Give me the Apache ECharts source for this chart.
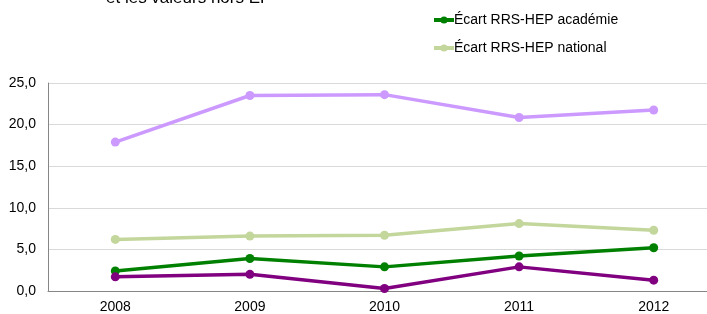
<!DOCTYPE html>
<html>
<head>
<meta charset="utf-8">
<script src="https://cdn.jsdelivr.net/npm/echarts@6/dist/echarts.min.js"></script>
<style>html,body{margin:0;padding:0;background:#fff}#c{width:707px;height:314px}</style>
</head>
<body>
<div id="c"></div>
<script>
const categories = ['2008', '2009', '2010', '2011', '2012'];
const ecartRrsHepAcademie = [2.4, 3.9, 2.9, 4.2, 5.2];
const ecartRrsHepNational = [6.2, 6.6, 6.7, 8.1, 7.3];
const serieViolette = [17.9, 23.5, 23.6, 20.85, 21.75];
const serieVioletteFoncee = [1.7, 2.0, 0.3, 2.9, 1.3];
const yTicks = [0, 5, 10, 15, 20, 25];

const chart = echarts.init(document.getElementById('c'), null, {renderer: 'canvas'});
const font = 'Liberation Sans, Arial, sans-serif';
function mk(name, data, color) {
  return {name, type: 'line', data, color, symbol: 'circle', symbolSize: 9,
    lineStyle: {width: 3.5, color}, itemStyle: {color}, animation: false};
}
chart.setOption({
  animation: false,
  title: {text: 'et les valeurs hors EP', left: 101, top: -15,
    textStyle: {fontFamily: font, fontSize: 17, fontWeight: 'normal', color: '#000'}},
  legend: {orient: 'vertical', left: 427, top: 8, itemWidth: 20, itemHeight: 9, itemGap: 14,
    lineStyle: {width: 4},
    data: ['Écart RRS-HEP académie', 'Écart RRS-HEP national'],
    textStyle: {fontFamily: font, fontSize: 14, color: '#000', padding: [0,0,0,-5]}},
  grid: {left: 48, top: 83, height: 208, width: 673, containLabel: false, outerBoundsMode: 'none'},
  xAxis: {type: 'category', data: categories, boundaryGap: true,
    axisLine: {lineStyle: {color: '#868686'}}, axisTick: {show: false},
    axisLabel: {fontFamily: font, fontSize: 14, color: '#000', margin: 9}},
  yAxis: {type: 'value', min: yTicks[0], max: yTicks[yTicks.length-1], interval: 5,
    axisLine: {show: true, lineStyle: {color: '#868686'}}, axisTick: {show: false},
    splitLine: {lineStyle: {color: '#d9d9d9'}},
    axisLabel: {fontFamily: font, fontSize: 14, color: '#000', margin: 12,
      formatter: v => v.toFixed(1).replace('.', ',')}},
  series: [
    mk('Écart RRS-HEP académie', ecartRrsHepAcademie, '#008000'),
    mk('Écart RRS-HEP national', ecartRrsHepNational, '#c3d69b'),
    mk('Série violette', serieViolette, '#cc99ff'),
    mk('Série violette foncée', serieVioletteFoncee, '#800080')
  ]
});
</script>
</body>
</html>
